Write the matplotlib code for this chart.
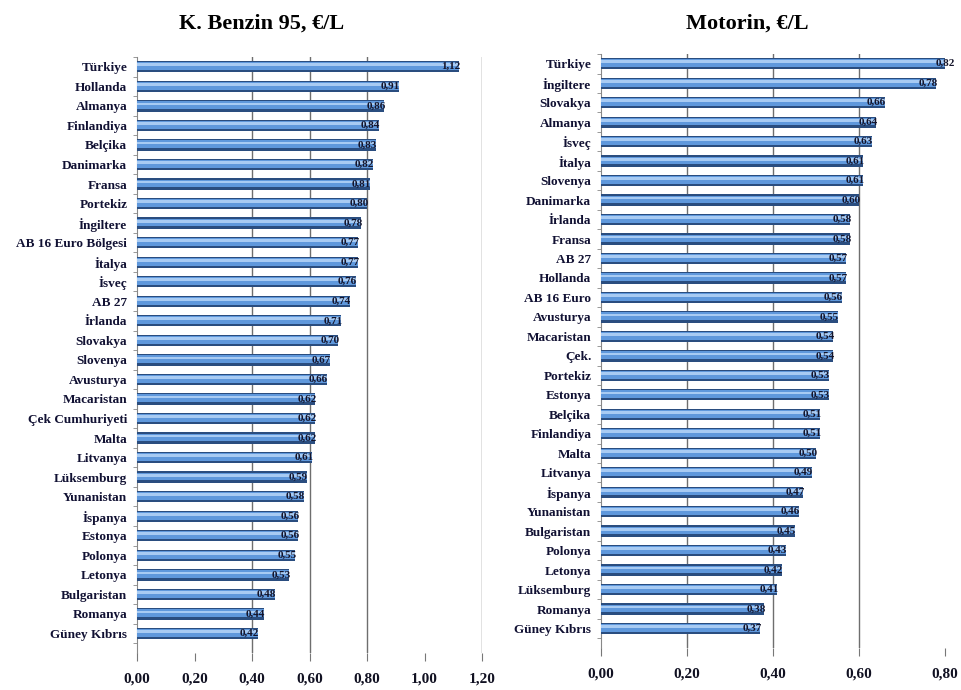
import matplotlib
matplotlib.use('agg')
import matplotlib.pyplot as plt
import numpy as np

# K. Benzin 95, €/L
benzin_countries = ["Türkiye", "Hollanda", "Almanya", "Finlandiya", "Belçika", "Danimarka",
                    "Fransa", "Portekiz", "İngiltere", "AB 16 Euro Bölgesi", "İtalya", "İsveç",
                    "AB 27", "İrlanda", "Slovakya", "Slovenya", "Avusturya", "Macaristan",
                    "Çek Cumhuriyeti", "Malta", "Litvanya", "Lüksemburg", "Yunanistan",
                    "İspanya", "Estonya", "Polonya", "Letonya", "Bulgaristan", "Romanya",
                    "Güney Kıbrıs"]
benzin_values = [1.12, 0.91, 0.86, 0.84, 0.83, 0.82, 0.81, 0.80, 0.78, 0.77, 0.77, 0.76,
                 0.74, 0.71, 0.70, 0.67, 0.66, 0.62, 0.62, 0.62, 0.61, 0.59, 0.58,
                 0.56, 0.56, 0.55, 0.53, 0.48, 0.44, 0.42]

# Motorin, €/L
motorin_countries = ["Türkiye", "İngiltere", "Slovakya", "Almanya", "İsveç", "İtalya",
                     "Slovenya", "Danimarka", "İrlanda", "Fransa", "AB 27", "Hollanda",
                     "AB 16 Euro", "Avusturya", "Macaristan", "Çek.", "Portekiz", "Estonya",
                     "Belçika", "Finlandiya", "Malta", "Litvanya", "İspanya", "Yunanistan",
                     "Bulgaristan", "Polonya", "Letonya", "Lüksemburg", "Romanya",
                     "Güney Kıbrıs"]
motorin_values = [0.82, 0.78, 0.66, 0.64, 0.63, 0.61, 0.61, 0.60, 0.58, 0.58, 0.57, 0.57,
                  0.56, 0.55, 0.54, 0.54, 0.53, 0.53, 0.51, 0.51, 0.50, 0.49, 0.47, 0.46,
                  0.45, 0.43, 0.42, 0.41, 0.38, 0.37]

benzin_ticks = [0.0, 0.2, 0.4, 0.6, 0.8, 1.0, 1.2]
motorin_ticks = [0.0, 0.2, 0.4, 0.6, 0.8]

plt.rcParams['font.family'] = ['Liberation Serif', 'DejaVu Serif']
plt.rcParams['font.weight'] = 'bold'


def fmt(v):
    return ('%.2f' % v).replace('.', ',')


def draw(ax, names, vals, ticks, grid, xmax):
    y = np.arange(len(names))
    # cylinder-like bar: dark outline, light body, pale highlight
    ax.barh(y, vals, height=0.58, color='#2a4d7f', zorder=3)
    ax.barh(y - 0.03, vals, height=0.4, color='#5f98dc', zorder=4)
    ax.barh(y - 0.1, vals, height=0.14, color='#a8cbf3', zorder=5)
    for yi, v in zip(y, vals):
        ax.text(v + xmax * 0.004, yi, fmt(v), ha='right', va='center', fontsize=8,
                color='#14142a', zorder=6)
    for g in grid:
        ax.axvline(g, color='#6e6e6e', lw=1.0, zorder=1)
    ax.set_ylim(len(names), -0.5)
    ax.set_xlim(0, xmax)
    ax.set_yticks(y)
    ax.set_yticklabels(names, fontsize=9.5, color='#111133')
    ax.set_yticks(np.arange(len(names) + 1) - 0.5, minor=True)
    ax.tick_params(axis='y', which='major', length=0, pad=7)
    ax.tick_params(axis='y', which='minor', length=3, color='#888888')
    ax.set_xticks(ticks)
    ax.set_xticklabels([fmt(t) for t in ticks], fontsize=11, color='#111122')
    ax.tick_params(axis='x', length=6, color='#777777', pad=8)
    for s in ['top', 'right', 'bottom']:
        ax.spines[s].set_visible(False)
    ax.spines['left'].set_color('#888888')


fig = plt.figure(figsize=(9.61, 6.9), dpi=100)
ax1 = fig.add_axes([0.1426, 0.0536, 0.3590, 0.8638])
ax2 = fig.add_axes([0.6254, 0.0609, 0.3580, 0.8608])

draw(ax1, benzin_countries, benzin_values, benzin_ticks, [0.4, 0.6, 0.8, 1.2], 1.2)
draw(ax2, motorin_countries, motorin_values, motorin_ticks, [0.2, 0.4, 0.6], 0.8)

fig.text(0.272, 0.966, "K. Benzin 95, €/L", ha='center', va='center', fontsize=16)
fig.text(0.778, 0.966, "Motorin, €/L", ha='center', va='center', fontsize=16)

plt.savefig('out.png', dpi=100)
